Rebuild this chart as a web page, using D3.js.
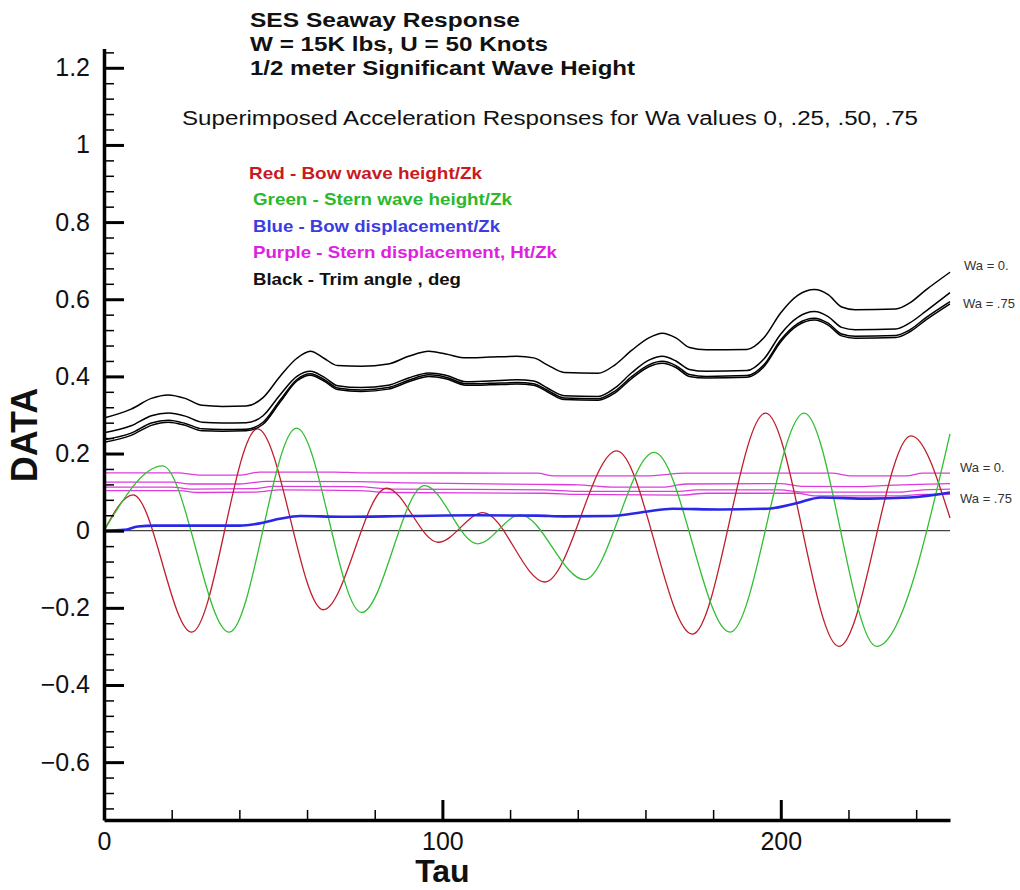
<!DOCTYPE html>
<html>
<head>
<meta charset="utf-8">
<script src="https://cdn.jsdelivr.net/npm/d3@7"></script>
<style>
  html, body { margin: 0; padding: 0; background: #fff; }
  svg { display: block; font-family: "Liberation Sans", Arial, Helvetica, sans-serif; }
</style>
</head>
<body>
<svg id="chart" width="1020" height="890"></svg>
<script>
// ---- Data -------------------------------------------------------------
// Bow / stern wave heights (tau, value) at crests, troughs and ends
const bowWave = [[0,0],[8.6,0.093],[25.9,-0.263],[45.4,0.264],[64.8,-0.205],[83.5,0.11],[98.8,-0.03],
  [112,0.047],[130.3,-0.133],[151.5,0.207],[173.9,-0.268],[195.5,0.305],[217.2,-0.30],[238.5,0.246],[250,0.033]];
const sternWave = [[0,0],[17.3,0.168],[37,-0.263],[56.9,0.266],[76.1,-0.212],[94.7,0.117],[110.4,-0.034],
  [123,0.041],[142,-0.127],[162.6,0.203],[185,-0.263],[206.9,0.305],[228.3,-0.30],[250,0.251]];

// Bow displacement
const bowDisp = [[0,0],[6,0.002],[10,0.011],[15,0.013],[40,0.013],[46,0.019],[52,0.031],[58,0.038],[70,0.036],
  [90,0.038],[110,0.040],[128,0.039],[136,0.037],[150,0.038],[160,0.049],[168,0.057],[182,0.055],[196,0.057],
  [204,0.070],[212,0.086],[226,0.083],[238,0.086],[250,0.099]];

// Stern displacement, Wa = 0, .25, .50, .75
const sternDisp0 = [[0,0.150],[22,0.150],[28,0.144],[40,0.144],[46,0.152],[68,0.152],[76,0.150],[128,0.149],
  [133,0.142],[160,0.142],[172,0.149],[215,0.149],[221,0.142],[237,0.142],[242,0.149],[250,0.149]];
const sternDisp25 = [[0,0.126],[20,0.126],[26,0.121],[40,0.121],[48,0.128],[75,0.127],[90,0.124],[128,0.120],
  [140,0.119],[150,0.113],[165,0.113],[172,0.121],[200,0.122],[206,0.115],[222,0.114],[230,0.117],[250,0.122]];
const sternDisp50 = [[0,0.113],[20,0.113],[26,0.108],[45,0.109],[50,0.115],[75,0.114],[85,0.108],[130,0.106],
  [140,0.102],[170,0.102],[175,0.106],[200,0.106],[206,0.100],[235,0.100],[242,0.106],[250,0.108]];
const sternDisp75 = [[0,0.104],[22,0.104],[28,0.099],[45,0.100],[52,0.106],[75,0.104],[85,0.099],[130,0.097],
  [140,0.094],[170,0.092],[178,0.097],[205,0.097],[210,0.090],[235,0.090],[242,0.094],[250,0.094]];

// Trim angle, Wa = 0, .25, .50, .75
const trimTau = [0,8,14,19,24,29,35,42,47,52,57,61,65,69,76,84,90,96,101,107,114,122,127,131,136,146,151,
  156,161,165,169,173,178,190,195,200,205,210,214,218,222,234,238,243,250];
const trim0 = [0.292,0.315,0.343,0.352,0.343,0.325,0.322,0.323,0.345,0.400,0.447,0.465,0.447,0.428,0.426,0.432,
  0.452,0.465,0.458,0.448,0.450,0.452,0.448,0.430,0.410,0.408,0.430,0.468,0.500,0.512,0.500,0.475,0.469,0.470,
  0.500,0.565,0.610,0.625,0.612,0.580,0.573,0.575,0.590,0.625,0.670];
const trim25 = [0.254,0.272,0.298,0.305,0.297,0.281,0.279,0.280,0.298,0.352,0.400,0.413,0.398,0.376,0.371,0.377,
  0.396,0.409,0.403,0.386,0.388,0.391,0.388,0.370,0.350,0.348,0.370,0.410,0.442,0.452,0.440,0.418,0.413,0.415,
  0.445,0.510,0.553,0.568,0.555,0.527,0.521,0.523,0.538,0.570,0.617];
const trim50 = [0.236,0.253,0.279,0.286,0.278,0.264,0.262,0.263,0.281,0.338,0.392,0.407,0.392,0.370,0.365,0.371,
  0.390,0.404,0.398,0.381,0.382,0.384,0.381,0.364,0.344,0.342,0.362,0.400,0.430,0.439,0.428,0.405,0.400,0.402,
  0.430,0.495,0.537,0.551,0.538,0.510,0.504,0.506,0.520,0.553,0.594];
const trim75 = [0.229,0.247,0.273,0.281,0.273,0.259,0.258,0.259,0.276,0.333,0.388,0.403,0.388,0.366,0.361,0.367,
  0.386,0.400,0.394,0.377,0.378,0.380,0.377,0.360,0.340,0.338,0.357,0.395,0.425,0.434,0.423,0.400,0.396,0.398,
  0.425,0.490,0.532,0.546,0.533,0.505,0.499,0.501,0.515,0.547,0.588];

// Axis ticks
const xMajorTicks = [0, 100, 200];
const xMinorTicks = [20,40,60,80,120,140,160,180,220,240];
const yMajorTicks = [-0.6,-0.4,-0.2,0,0.2,0.4,0.6,0.8,1,1.2];
const yMinorTicks = d3.range(-0.72, 1.25, 0.04).map(v => +v.toFixed(2)).filter(v => Math.abs(v*5 - Math.round(v*5)) > 1e-6);

// Text
const titleLines = ["SES Seaway Response", "W = 15K lbs, U = 50 Knots", "1/2 meter Significant Wave Height"];
const subtitle = "Superimposed Acceleration Responses for Wa values 0, .25, .50, .75";
const legendItems = [
  {text: "Red - Bow wave height/Zk", color: "#c81a22"},
  {text: "Green - Stern wave height/Zk", color: "#2cb82c"},
  {text: "Blue - Bow displacement/Zk", color: "#3c3ce0"},
  {text: "Purple - Stern displacement, Ht/Zk", color: "#e020e0"},
  {text: "Black - Trim angle , deg", color: "#111"}
];

// ---- Layout -----------------------------------------------------------
const svg = d3.select("#chart");
const x = d3.scaleLinear().domain([0, 250]).range([104, 950]);
const y = d3.scaleLinear().domain([-0.75, 1.25]).range([820, 48.5]);
const FONT = '"Liberation Sans", Arial, Helvetica, sans-serif';

// zero reference line
svg.append("line")
  .attr("x1", x(0)).attr("x2", x(250)).attr("y1", y(0)).attr("y2", y(0))
  .attr("stroke", "#444").attr("stroke-width", 1.3);

const line = d3.line().x(d => x(d[0])).y(d => y(d[1])).curve(d3.curveMonotoneX);

function drawSeries(data, color, width) {
  svg.append("path").datum(data)
    .attr("fill", "none").attr("stroke", color).attr("stroke-width", width)
    .attr("stroke-linejoin", "round").attr("d", line);
}

[sternDisp0, sternDisp25, sternDisp50, sternDisp75].forEach(s => drawSeries(s, "#dc3cdc", 1.3));
drawSeries(bowWave, "#be1e2d", 1.3);
drawSeries(sternWave, "#32be32", 1.3);
drawSeries(bowDisp, "#2828e6", 2.6);
[trim0, trim25, trim50, trim75].forEach(vals =>
  drawSeries(trimTau.map((t, i) => [t, vals[i]]), "#000", 1.5));

// ---- Axes -------------------------------------------------------------
const yAxis = svg.append("g").attr("transform", `translate(${x(0)},0)`)
  .call(d3.axisLeft(y).tickValues(yMajorTicks).tickSize(-20).tickSizeOuter(0).tickPadding(14)
    .tickFormat(d => d3.format("")(+d.toFixed(1))));
const yMinor = svg.append("g").attr("transform", `translate(${x(0)},0)`)
  .call(d3.axisLeft(y).tickValues(yMinorTicks).tickSize(-10).tickSizeOuter(0).tickFormat(""));
const xAxis = svg.append("g").attr("transform", `translate(0,${y(-0.75)})`)
  .call(d3.axisBottom(x).tickValues(xMajorTicks).tickSize(-20).tickSizeOuter(0).tickPadding(12));
const xMinor = svg.append("g").attr("transform", `translate(0,${y(-0.75)})`)
  .call(d3.axisBottom(x).tickValues(xMinorTicks).tickSize(-10).tickSizeOuter(0).tickFormat(""));

[yAxis, xAxis].forEach(g => {
  g.select(".domain").attr("stroke", "#000").attr("stroke-width", 3.5);
  g.selectAll(".tick line").attr("stroke", "#000").attr("stroke-width", 3);
  g.selectAll(".tick text").attr("fill", "#111").attr("font-size", 25).attr("font-family", FONT);
});
[yMinor, xMinor].forEach(g => {
  g.select(".domain").remove();
  g.selectAll(".tick line").attr("stroke", "#000").attr("stroke-width", 1.5);
});

// axis titles
svg.append("text").attr("x", x(100)).attr("y", 882).attr("text-anchor", "middle")
  .attr("font-size", 32).attr("font-weight", "bold").attr("fill", "#111").text("Tau");
svg.append("text").attr("transform", "translate(37,435) rotate(-90)").attr("text-anchor", "middle")
  .attr("font-size", 36).attr("font-weight", "bold").attr("fill", "#111").text("DATA");

// ---- Titles & legend --------------------------------------------------
const titleWidths = [270, 298, 385];
titleLines.forEach((t, i) => {
  svg.append("text").attr("x", 250).attr("y", 27 + i * 24)
    .attr("font-size", 20).attr("font-weight", "bold").attr("fill", "#111")
    .attr("textLength", titleWidths[i]).attr("lengthAdjust", "spacingAndGlyphs").text(t);
});
svg.append("text").attr("x", 182).attr("y", 125)
  .attr("font-size", 20).attr("fill", "#111")
  .attr("textLength", 736).attr("lengthAdjust", "spacingAndGlyphs").text(subtitle);

const legendWidths = [233, 259, 247, 304, 208];
legendItems.forEach((item, i) => {
  svg.append("text").attr("x", i === 0 ? 249 : 253).attr("y", 179 + i * 26.4)
    .attr("font-size", 17).attr("font-weight", "bold").attr("fill", item.color)
    .attr("textLength", legendWidths[i]).attr("lengthAdjust", "spacingAndGlyphs").text(item.text);
});

// end-of-curve labels
const endLabels = [
  {text: "Wa = 0.", x: 964, y: 270},
  {text: "Wa = .75", x: 963, y: 308},
  {text: "Wa = 0.", x: 960, y: 472},
  {text: "Wa = .75", x: 960, y: 503}
];
endLabels.forEach(l => {
  svg.append("text").attr("x", l.x).attr("y", l.y).attr("font-size", 13)
    .attr("fill", "#333").text(l.text);
});
</script>
</body>
</html>
